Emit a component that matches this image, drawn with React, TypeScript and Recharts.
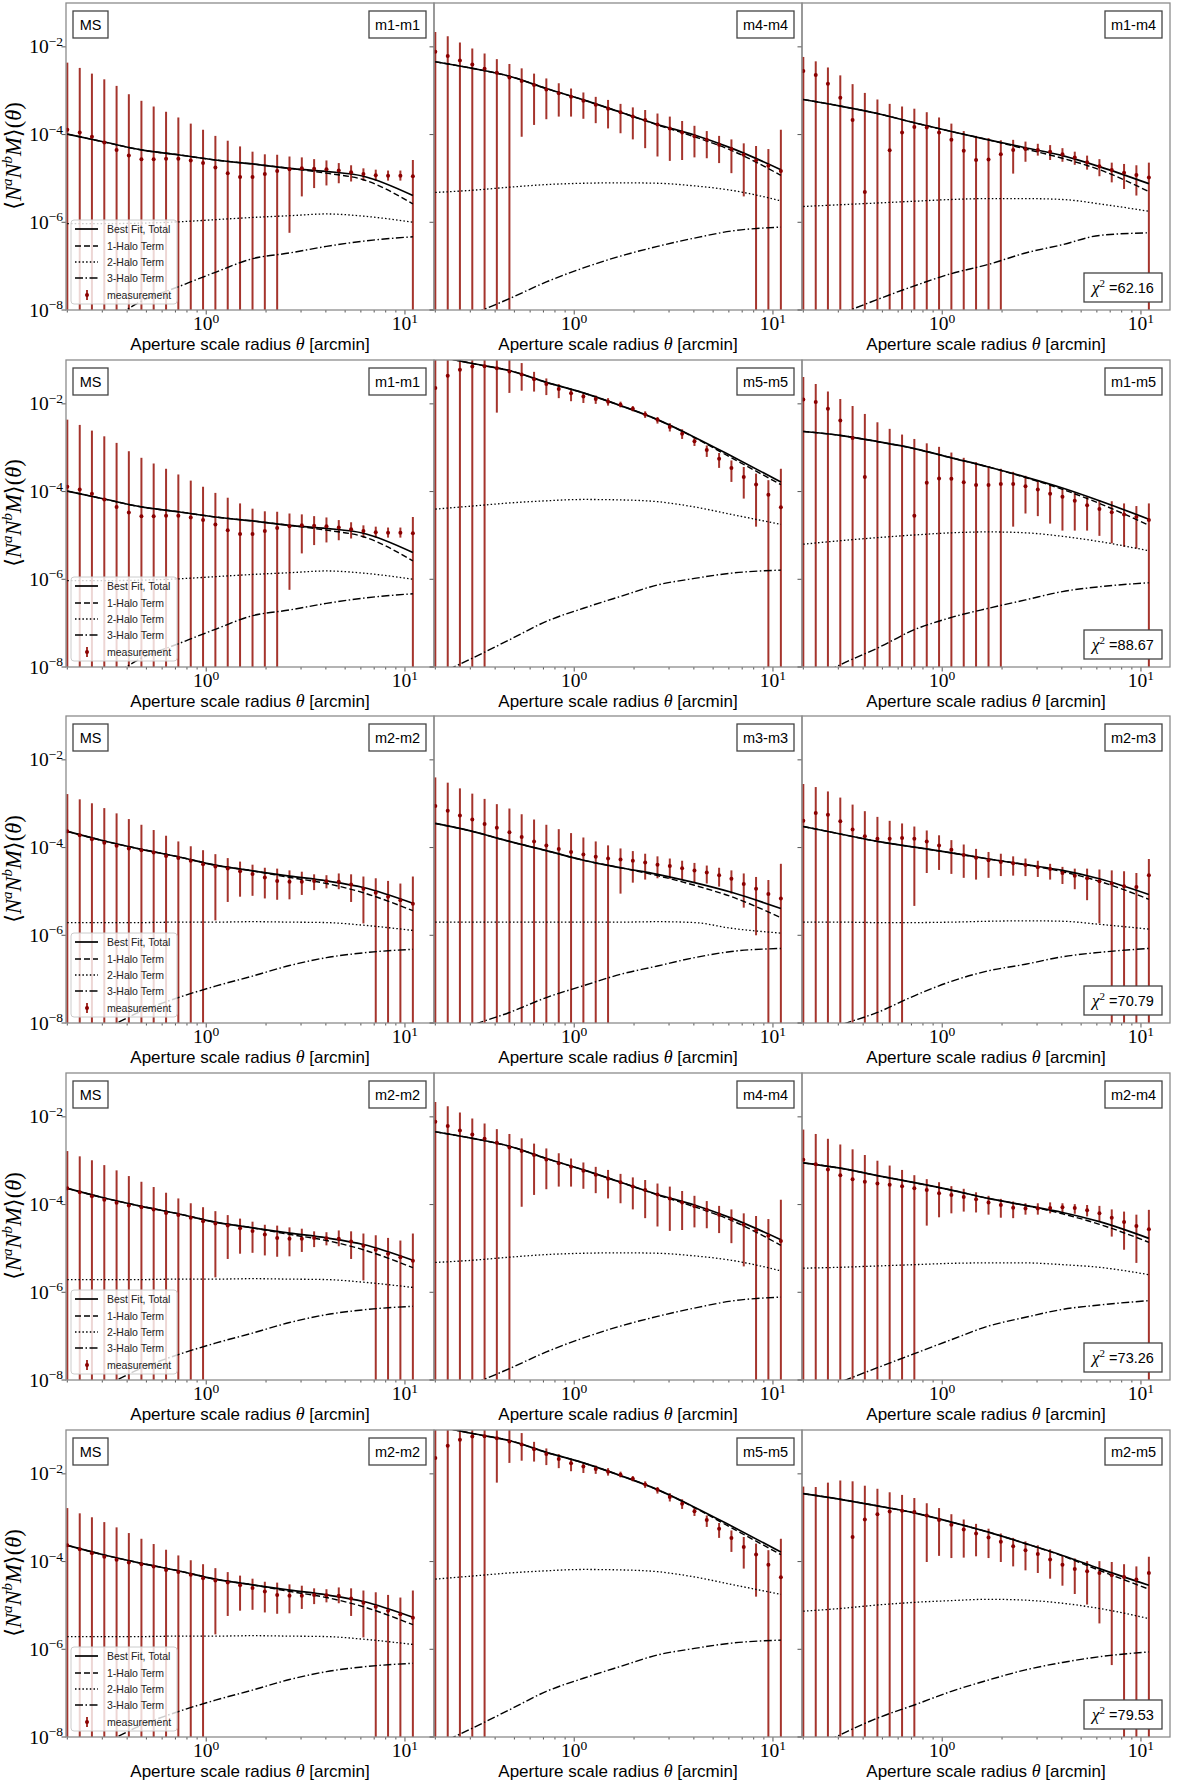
import React from "react";
import { ComposedChart, Scatter, ErrorBar, Line, XAxis, YAxis } from "recharts";

// aperture radii of the measurements [arcmin]
const theta = [
  0.2, 0.231, 0.266, 0.307, 0.354, 0.408, 0.472, 0.544, 0.628, 0.724,
  0.836, 0.964, 1.112, 1.283, 1.48, 1.71, 1.972, 2.275, 2.624, 3.027,
  3.491, 4.027, 4.645, 5.358, 6.18, 7.129, 8.222, 9.484, 10.96,
];
const lineTheta = [0.2, 0.307, 0.472, 0.724, 1.112, 1.71, 2.624, 4.027, 6.18, 10.96];

const xTicks = [0.2, 0.3, 0.4, 0.5, 0.6, 0.7, 0.8, 0.9, 1, 2, 3, 4, 5, 6, 7, 8, 9, 10];
const yTicks = [1e-8, 1e-6, 1e-4, 1e-2];

// all values below are log10 of <NNM>; OFF = error bar runs off the bottom, null = no marker
const OFF = -9;

// m1-m1
const m1m1Meas = [-3.89, -3.95, -4.05, -4.18, -4.35, -4.48, -4.56, -4.56, -4.55, -4.55, -4.59, -4.65, -4.75, -4.88, -4.97, -4.97, -4.9, -4.83, -4.79, -4.77, -4.78, -4.79, -4.82, -4.86, -4.9, -4.93, -4.94, -4.94, -4.95];
const m1m1Hi = [-2.36, -2.48, -2.61, -2.74, -2.89, -3.08, -3.23, -3.36, -3.48, -3.61, -3.75, -3.89, -4.03, -4.14, -4.27, -4.39, -4.45, -4.46, -4.5, -4.52, -4.56, -4.59, -4.65, -4.7, -4.77, -4.8, -4.82, -4.82, -4.58];
const m1m1Lo = [OFF, OFF, OFF, OFF, OFF, OFF, OFF, OFF, OFF, OFF, OFF, OFF, OFF, OFF, OFF, OFF, OFF, OFF, -6.24, -5.41, -5.22, -5.16, -5.11, -5.07, -5.05, -5.05, -5.05, -5.05, OFF];
const m1m1Total = [-3.99, -4.17, -4.35, -4.46, -4.58, -4.67, -4.77, -4.84, -4.95, -5.39];
const m1m1One = [-3.99, -4.17, -4.35, -4.46, -4.58, -4.67, -4.77, -4.88, -5.03, -5.58];
const m1m1Two = [-6.03, -6.03, -6.02, -5.99, -5.94, -5.89, -5.85, -5.81, -5.86, -6.0];
const m1m1Three = [-8.7, -8.3, -7.8, -7.47, -7.14, -6.83, -6.7, -6.55, -6.43, -6.33];

// m4-m4
const m4m4Meas = [-2.11, -2.21, -2.31, -2.4, -2.5, -2.59, -2.7, -2.78, -2.87, -2.97, -3.06, -3.14, -3.23, -3.32, -3.41, -3.49, -3.59, -3.67, -3.77, -3.86, -3.95, -4.04, -4.12, -4.23, -4.33, -4.46, -4.59, -4.71, -4.83];
const m4m4Hi = [-1.66, -1.76, -1.9, -2.04, -2.15, -2.28, -2.39, -2.49, -2.61, -2.72, -2.83, -2.95, -3.04, -3.14, -3.21, -3.3, -3.38, -3.44, -3.52, -3.59, -3.69, -3.8, -3.92, -4.03, -4.11, -4.2, -4.26, -4.33, -3.89];
const m4m4Lo = [OFF, OFF, OFF, OFF, OFF, OFF, OFF, -4.05, -3.78, -3.65, -3.59, -3.59, -3.64, -3.74, -3.86, -3.97, -4.11, -4.31, -4.5, -4.6, -4.58, -4.52, -4.54, -4.65, -4.88, -5.41, OFF, OFF, OFF];
const m4m4Total = [-2.34, -2.49, -2.67, -2.95, -3.21, -3.49, -3.77, -4.01, -4.31, -4.8];
const m4m4One = [-2.34, -2.49, -2.67, -2.95, -3.21, -3.49, -3.78, -4.05, -4.36, -4.93];
const m4m4Two = [-5.32, -5.27, -5.2, -5.14, -5.11, -5.1, -5.11, -5.17, -5.27, -5.51];
const m4m4Three = [-8.45, -8.1, -7.74, -7.36, -7.04, -6.77, -6.55, -6.36, -6.2, -6.11];

// m1-m4
const m1m4Meas = [-2.55, -2.64, -2.84, -3.16, -3.67, -5.31, null, -4.36, -3.95, -3.83, -3.84, -3.95, -4.12, -4.37, -4.58, -4.57, -4.45, -4.35, -4.33, -4.35, -4.39, -4.45, -4.52, -4.63, -4.72, -4.81, -4.87, -4.92, -4.98];
const m1m4Hi = [-2.23, -2.33, -2.47, -2.65, -2.85, -3.05, -3.2, -3.3, -3.36, -3.41, -3.49, -3.61, -3.75, -3.92, -4.03, -4.08, -4.13, -4.12, -4.16, -4.21, -4.24, -4.31, -4.39, -4.48, -4.56, -4.64, -4.67, -4.7, -4.64];
const m1m4Lo = [OFF, OFF, OFF, OFF, OFF, OFF, OFF, OFF, OFF, OFF, OFF, OFF, OFF, OFF, OFF, OFF, OFF, -4.89, -4.62, -4.48, -4.58, -4.62, -4.69, -4.8, -4.95, -5.09, -5.24, -5.39, OFF];
const m1m4Total = [-3.2, -3.35, -3.52, -3.73, -3.93, -4.12, -4.3, -4.48, -4.73, -5.12];
const m1m4One = [-3.2, -3.35, -3.52, -3.73, -3.93, -4.12, -4.33, -4.54, -4.8, -5.3];
const m1m4Two = [-5.64, -5.6, -5.56, -5.52, -5.48, -5.46, -5.46, -5.48, -5.58, -5.75];
const m1m4Three = [-8.5, -8.1, -7.76, -7.45, -7.17, -6.96, -6.7, -6.51, -6.3, -6.24];

// m5-m5
const m5m5Meas = [-1.64, -1.36, -1.22, -1.15, -1.14, -1.19, -1.26, -1.33, -1.44, -1.55, -1.66, -1.76, -1.83, -1.89, -1.95, -2.02, -2.11, -2.24, -2.36, -2.53, -2.68, -2.85, -3.05, -3.25, -3.46, -3.67, -3.84, -4.07, -4.36];
const m5m5Hi = [-0.9, -0.9, -0.9, -0.9, -0.9, -0.9, -0.95, -1.07, -1.27, -1.42, -1.55, -1.66, -1.75, -1.81, -1.87, -1.95, -2.05, -2.17, -2.3, -2.44, -2.58, -2.76, -2.95, -3.12, -3.29, -3.44, -3.59, -3.74, -3.48];
const m5m5Lo = [OFF, OFF, OFF, OFF, OFF, -2.2, -1.75, -1.7, -1.72, -1.8, -1.87, -1.94, -1.98, -2.0, -2.04, -2.08, -2.17, -2.32, -2.45, -2.63, -2.8, -2.96, -3.21, -3.46, -3.78, -4.16, -4.8, OFF, OFF];
const m5m5Total = [-0.9, -1.08, -1.24, -1.51, -1.75, -2.04, -2.36, -2.76, -3.19, -3.78];
const m5m5One = [-0.9, -1.08, -1.24, -1.51, -1.75, -2.04, -2.36, -2.77, -3.23, -3.84];
const m5m5Two = [-4.4, -4.33, -4.26, -4.21, -4.18, -4.19, -4.23, -4.35, -4.52, -4.75];
const m5m5Three = [-8.2, -7.8, -7.38, -6.96, -6.66, -6.39, -6.13, -5.98, -5.86, -5.79];

// m1-m5
const m1m5Meas = [-1.9, -1.96, -2.11, -2.38, -2.78, -3.67, null, null, null, -4.55, -3.8, -3.7, -3.71, -3.79, -3.85, -3.85, -3.83, -3.83, -3.88, -3.95, -4.05, -4.12, -4.21, -4.31, -4.4, -4.47, -4.52, -4.58, -4.65];
const m1m5Hi = [-1.39, -1.55, -1.72, -1.89, -2.05, -2.23, -2.42, -2.57, -2.7, -2.8, -2.9, -2.98, -3.11, -3.23, -3.33, -3.42, -3.48, -3.55, -3.64, -3.74, -3.84, -3.93, -4.02, -4.12, -4.2, -4.22, -4.27, -4.33, -4.27];
const m1m5Lo = [OFF, OFF, OFF, OFF, OFF, OFF, OFF, OFF, OFF, OFF, OFF, OFF, OFF, OFF, OFF, OFF, OFF, -4.8, -4.5, -4.56, -4.73, -4.89, -4.89, -4.89, -5.01, -5.18, -5.26, -5.3, OFF];
const m1m5Total = [-2.63, -2.72, -2.86, -3.02, -3.23, -3.44, -3.67, -3.92, -4.21, -4.63];
const m1m5One = [-2.63, -2.72, -2.86, -3.02, -3.23, -3.44, -3.68, -3.95, -4.27, -4.77];
const m1m5Two = [-5.2, -5.12, -5.05, -4.99, -4.94, -4.92, -4.94, -5.02, -5.14, -5.35];
const m1m5Three = [-8.4, -7.95, -7.57, -7.15, -6.87, -6.66, -6.47, -6.28, -6.17, -6.08];

// m2-m2
const m2m2Meas = [-3.63, -3.72, -3.81, -3.89, -3.96, -4.02, -4.06, -4.11, -4.19, -4.24, -4.3, -4.38, -4.43, -4.48, -4.54, -4.6, -4.68, -4.76, -4.78, -4.78, -4.76, -4.77, -4.78, -4.84, -4.94, -5.03, -5.12, -5.2, -5.28];
const m2m2Hi = [-2.78, -2.9, -2.99, -3.1, -3.22, -3.35, -3.48, -3.6, -3.73, -3.86, -3.97, -4.06, -4.15, -4.24, -4.32, -4.39, -4.46, -4.48, -4.52, -4.55, -4.61, -4.63, -4.59, -4.61, -4.66, -4.7, -4.76, -4.82, -4.66];
const m2m2Lo = [OFF, OFF, OFF, OFF, OFF, OFF, OFF, OFF, OFF, OFF, OFF, OFF, -5.66, -5.24, -5.12, -5.1, -5.16, -5.19, -5.18, -5.08, -4.97, -4.93, -4.95, -5.24, -5.73, OFF, OFF, OFF, OFF];
const m2m2Total = [-3.63, -3.85, -4.04, -4.21, -4.4, -4.53, -4.65, -4.76, -4.91, -5.27];
const m2m2One = [-3.63, -3.85, -4.04, -4.21, -4.4, -4.53, -4.68, -4.82, -5.03, -5.44];
const m2m2Two = [-5.71, -5.71, -5.71, -5.7, -5.7, -5.69, -5.7, -5.71, -5.77, -5.89];
const m2m2Three = [-8.6, -8.15, -7.73, -7.42, -7.16, -6.93, -6.69, -6.51, -6.4, -6.32];

// m3-m3
const m3m3Meas = [-3.05, -3.16, -3.27, -3.36, -3.46, -3.55, -3.65, -3.76, -3.86, -3.95, -4.03, -4.1, -4.16, -4.21, -4.25, -4.27, -4.3, -4.34, -4.39, -4.42, -4.47, -4.52, -4.57, -4.63, -4.71, -4.83, -4.94, -5.06, -5.16];
const m3m3Hi = [-2.4, -2.52, -2.65, -2.77, -2.89, -3.01, -3.11, -3.24, -3.36, -3.48, -3.58, -3.67, -3.77, -3.86, -3.95, -4.02, -4.08, -4.14, -4.2, -4.25, -4.3, -4.35, -4.41, -4.46, -4.52, -4.59, -4.67, -4.74, -4.37];
const m3m3Lo = [OFF, OFF, OFF, OFF, OFF, OFF, OFF, OFF, OFF, OFF, OFF, OFF, OFF, OFF, OFF, -5.05, -4.8, -4.73, -4.7, -4.71, -4.74, -4.8, -4.82, -4.89, -5.05, -5.37, -6.0, OFF, OFF];
const m3m3Total = [-3.45, -3.63, -3.86, -4.07, -4.29, -4.46, -4.61, -4.8, -5.02, -5.39];
const m3m3One = [-3.45, -3.63, -3.86, -4.07, -4.29, -4.46, -4.64, -4.86, -5.12, -5.6];
const m3m3Two = [-5.7, -5.7, -5.7, -5.7, -5.7, -5.7, -5.69, -5.71, -5.84, -5.95];
const m3m3Three = [-8.4, -8.05, -7.76, -7.42, -7.15, -6.89, -6.7, -6.51, -6.37, -6.3];

// m2-m3
const m2m3Meas = [-3.39, -3.21, -3.25, -3.4, -3.59, -3.74, -3.8, -3.8, -3.78, -3.8, -3.86, -3.95, -4.05, -4.17, -4.23, -4.29, -4.33, -4.36, -4.4, -4.45, -4.49, -4.58, -4.64, -4.7, -4.77, -4.82, -4.88, -4.9, -4.63];
const m2m3Hi = [-2.55, -2.62, -2.72, -2.86, -3.02, -3.17, -3.3, -3.39, -3.45, -3.52, -3.61, -3.72, -3.83, -3.93, -4.03, -4.1, -4.14, -4.2, -4.25, -4.3, -4.37, -4.44, -4.48, -4.48, -4.5, -4.52, -4.54, -4.58, -4.26];
const m2m3Lo = [OFF, OFF, OFF, OFF, OFF, OFF, OFF, OFF, OFF, -5.33, -4.58, -4.51, -4.6, -4.69, -4.73, -4.69, -4.65, -4.64, -4.65, -4.67, -4.73, -4.83, -4.95, -5.2, -5.73, OFF, OFF, OFF, OFF];
const m2m3Total = [-3.52, -3.69, -3.86, -3.99, -4.12, -4.26, -4.39, -4.52, -4.71, -5.07];
const m2m3One = [-3.52, -3.69, -3.86, -3.99, -4.12, -4.26, -4.39, -4.55, -4.77, -5.18];
const m2m3Two = [-5.7, -5.7, -5.71, -5.71, -5.7, -5.68, -5.67, -5.68, -5.75, -5.86];
const m2m3Three = [-8.4, -8.05, -7.76, -7.38, -7.05, -6.81, -6.66, -6.49, -6.39, -6.3];

// m2-m4
const m2m4Meas = [-2.98, -3.08, -3.2, -3.33, -3.42, -3.48, -3.52, -3.55, -3.58, -3.63, -3.67, -3.74, -3.78, -3.83, -3.88, -3.95, -4.01, -4.07, -4.09, -4.09, -4.08, -4.06, -4.08, -4.13, -4.2, -4.3, -4.4, -4.49, -4.56];
const m2m4Hi = [-2.29, -2.39, -2.5, -2.63, -2.74, -2.87, -3.0, -3.11, -3.21, -3.33, -3.42, -3.49, -3.58, -3.64, -3.72, -3.8, -3.87, -3.93, -3.97, -3.97, -3.95, -3.97, -3.99, -4.01, -4.03, -4.11, -4.16, -4.23, -4.12];
const m2m4Lo = [OFF, OFF, OFF, OFF, OFF, OFF, OFF, OFF, OFF, OFF, -4.48, -4.29, -4.2, -4.16, -4.18, -4.23, -4.3, -4.31, -4.23, -4.23, -4.2, -4.2, -4.21, -4.27, -4.39, -4.73, -5.03, -5.33, OFF];
const m2m4Total = [-3.05, -3.17, -3.34, -3.5, -3.67, -3.86, -4.02, -4.18, -4.39, -4.77];
const m2m4One = [-3.05, -3.17, -3.34, -3.5, -3.67, -3.86, -4.02, -4.21, -4.45, -4.86];
const m2m4Two = [-5.45, -5.43, -5.4, -5.37, -5.34, -5.33, -5.33, -5.37, -5.43, -5.6];
const m2m4Three = [-8.4, -8.05, -7.72, -7.4, -7.08, -6.77, -6.57, -6.39, -6.29, -6.19];

// m2-m5
const m2m5Meas = [null, null, null, null, -3.44, -3.04, -2.92, -2.86, -2.84, -2.87, -2.95, -3.05, -3.16, -3.27, -3.36, -3.45, -3.55, -3.65, -3.74, -3.83, -3.95, -4.07, -4.17, -4.22, -4.26, -4.31, -4.35, -4.41, -4.26];
const m2m5Hi = [-2.29, -2.3, -2.2, -2.15, -2.17, -2.27, -2.34, -2.42, -2.48, -2.55, -2.67, -2.78, -2.92, -3.04, -3.14, -3.25, -3.36, -3.46, -3.54, -3.63, -3.72, -3.86, -3.93, -3.99, -3.99, -4.01, -4.06, -4.11, -3.89];
const m2m5Lo = [OFF, OFF, OFF, OFF, OFF, OFF, OFF, OFF, OFF, OFF, -4.01, -3.87, -3.92, -3.91, -3.88, -3.92, -4.01, -4.11, -4.2, -4.26, -4.39, -4.55, -4.74, -4.98, -5.41, -6.36, OFF, OFF, OFF];
const m2m5Total = [-2.45, -2.58, -2.73, -2.89, -3.1, -3.33, -3.59, -3.86, -4.16, -4.54];
const m2m5One = [-2.45, -2.58, -2.73, -2.89, -3.1, -3.33, -3.59, -3.87, -4.2, -4.63];
const m2m5Two = [-5.13, -5.07, -4.99, -4.93, -4.89, -4.86, -4.88, -4.95, -5.07, -5.3];
const m2m5Three = [-8.4, -7.95, -7.57, -7.27, -6.96, -6.7, -6.47, -6.3, -6.17, -6.06];

type Curve = {
  meas: (number | null)[];
  hi: number[];
  lo: number[];
  total: number[];
  one: number[];
  two: number[];
  three: number[];
};

const m1m1: Curve = { meas: m1m1Meas, hi: m1m1Hi, lo: m1m1Lo, total: m1m1Total, one: m1m1One, two: m1m1Two, three: m1m1Three };
const m4m4: Curve = { meas: m4m4Meas, hi: m4m4Hi, lo: m4m4Lo, total: m4m4Total, one: m4m4One, two: m4m4Two, three: m4m4Three };
const m1m4: Curve = { meas: m1m4Meas, hi: m1m4Hi, lo: m1m4Lo, total: m1m4Total, one: m1m4One, two: m1m4Two, three: m1m4Three };
const m5m5: Curve = { meas: m5m5Meas, hi: m5m5Hi, lo: m5m5Lo, total: m5m5Total, one: m5m5One, two: m5m5Two, three: m5m5Three };
const m1m5: Curve = { meas: m1m5Meas, hi: m1m5Hi, lo: m1m5Lo, total: m1m5Total, one: m1m5One, two: m1m5Two, three: m1m5Three };
const m2m2: Curve = { meas: m2m2Meas, hi: m2m2Hi, lo: m2m2Lo, total: m2m2Total, one: m2m2One, two: m2m2Two, three: m2m2Three };
const m3m3: Curve = { meas: m3m3Meas, hi: m3m3Hi, lo: m3m3Lo, total: m3m3Total, one: m3m3One, two: m3m3Two, three: m3m3Three };
const m2m3: Curve = { meas: m2m3Meas, hi: m2m3Hi, lo: m2m3Lo, total: m2m3Total, one: m2m3One, two: m2m3Two, three: m2m3Three };
const m2m4: Curve = { meas: m2m4Meas, hi: m2m4Hi, lo: m2m4Lo, total: m2m4Total, one: m2m4One, two: m2m4Two, three: m2m4Three };
const m2m5: Curve = { meas: m2m5Meas, hi: m2m5Hi, lo: m2m5Lo, total: m2m5Total, one: m2m5One, two: m2m5Two, three: m2m5Three };

type PanelSpec = { curve: Curve; tag: string; chi?: string };

const grid: PanelSpec[][] = [
  [{ curve: m1m1, tag: "m1-m1" }, { curve: m4m4, tag: "m4-m4" }, { curve: m1m4, tag: "m1-m4", chi: "62.16" }],
  [{ curve: m1m1, tag: "m1-m1" }, { curve: m5m5, tag: "m5-m5" }, { curve: m1m5, tag: "m1-m5", chi: "88.67" }],
  [{ curve: m2m2, tag: "m2-m2" }, { curve: m3m3, tag: "m3-m3" }, { curve: m2m3, tag: "m2-m3", chi: "70.79" }],
  [{ curve: m2m2, tag: "m2-m2" }, { curve: m4m4, tag: "m4-m4" }, { curve: m2m4, tag: "m2-m4", chi: "73.26" }],
  [{ curve: m2m2, tag: "m2-m2" }, { curve: m5m5, tag: "m5-m5" }, { curve: m2m5, tag: "m2-m5", chi: "79.53" }],
];

const Y_MIN = 1e-8;
const Y_MAX = 1e-1;

const SANS = "'Liberation Sans', Arial, sans-serif";
const SERIF = "'Liberation Serif', 'DejaVu Serif', serif";
const ERR = "#a5342c";
const DOT = "#8b0000";

// layout
const AXIS_W = 66;
const PLOT_W = 368;
const PLOT_H = 307;
const CHART_W = AXIS_W + PLOT_W + 2;
const CHART_H = 360;
const rowTops = [3, 360, 716, 1073, 1430];
const colLefts = [0, 368, 736];

function pointRows(c: Curve) {
  return theta.map((x, i) => {
    const m = c.meas[i];
    const y = m === null ? Y_MIN : 10 ** m;
    const top = Math.min(10 ** c.hi[i], Y_MAX);
    const bottom = Math.max(10 ** c.lo[i], Y_MIN);
    return { x, y, missing: m === null, err: [Math.max(y - bottom, 0), Math.max(top - y, 0)] };
  });
}

function modelRows(c: Curve) {
  return lineTheta.map((x, i) => ({
    x,
    total: 10 ** c.total[i],
    one: 10 ** c.one[i],
    two: 10 ** c.two[i],
    three: 10 ** c.three[i],
  }));
}

const MeasDot = (props: any) => {
  if (props.payload?.missing) return <g />;
  return <circle cx={props.cx} cy={props.cy} r={2} fill={DOT} />;
};

const XTick = (props: any) => {
  const { x, y, payload } = props;
  const e = Math.log10(payload.value);
  const major = Math.abs(e - Math.round(e)) < 1e-6;
  return (
    <g>
      <line x1={x} x2={x} y1={y} y2={y + (major ? 4.5 : 2.5)} stroke="#555" strokeWidth={1} />
      {major && (
        <text x={x} y={y + 20} textAnchor="middle" fontFamily={SERIF} fontSize={19.5} fill="#000">
          10
          <tspan dy={-7.5} fontSize={13.5}>
            {Math.round(e)}
          </tspan>
        </text>
      )}
    </g>
  );
};

const makeYTick = (showLabel: boolean) => (props: any) => {
  const { x, y, payload } = props;
  const e = Math.round(Math.log10(payload.value));
  return (
    <g>
      <line x1={x - 4.5} x2={x} y1={y} y2={y} stroke="#555" strokeWidth={1} />
      {showLabel && (
        <text x={x - 3} y={y + 6.5} textAnchor="end" fontFamily={SERIF} fontSize={19.5} fill="#000">
          10
          <tspan dy={-7.5} fontSize={13.5}>
            {"\u2212" + Math.abs(e)}
          </tspan>
        </text>
      )}
    </g>
  );
};

function Legend() {
  const x0 = 71;
  const rows = [226, 243, 259, 275, 292];
  const labels = ["Best Fit, Total", "1-Halo Term", "2-Halo Term", "3-Halo Term", "measurement"];
  const dashes = [undefined, "6 3", "1.5 2.2", "8 2.5 1.5 2.5"];
  return (
    <g>
      <rect x={x0} y={217} width={106} height={84} rx={3} fill="rgba(255,255,255,0.8)" stroke="#cccccc" strokeWidth={1} />
      {rows.map((ry, i) => (
        <g key={i}>
          {i < 4 ? (
            <line x1={75} x2={98} y1={ry} y2={ry} stroke="#000" strokeWidth={i === 0 ? 1.7 : 1.4} strokeDasharray={dashes[i]} />
          ) : (
            <g>
              <line x1={87} x2={87} y1={ry - 5} y2={ry + 5} stroke={ERR} strokeWidth={2} />
              <circle cx={87} cy={ry} r={2} fill={DOT} />
            </g>
          )}
          <text x={107} y={ry + 3.6} fontFamily={SANS} fontSize={10.5} fill="#222">
            {labels[i]}
          </text>
        </g>
      ))}
    </g>
  );
}

function Panel({ spec, col, left, top }: { spec: PanelSpec; col: number; left: number; top: number }) {
  const pts = pointRows(spec.curve);
  const model = modelRows(spec.curve);
  const plotR = AXIS_W + PLOT_W;
  return (
    <div style={{ position: "absolute", left, top, width: CHART_W, height: CHART_H }}>
      <ComposedChart width={CHART_W} height={CHART_H} margin={{ top: 0, right: 2, bottom: 0, left: 0 }}>
        <XAxis
          dataKey="x"
          type="number"
          scale="log"
          domain={[0.197, 14]}
          allowDataOverflow
          ticks={xTicks}
          interval={0}
          tick={XTick}
          tickSize={0}
          tickMargin={0}
          axisLine={false}
          height={CHART_H - PLOT_H}
        />
        <YAxis
          type="number"
          scale="log"
          domain={[Y_MIN, Y_MAX]}
          allowDataOverflow
          ticks={yTicks}
          interval={0}
          tick={makeYTick(col === 0)}
          tickSize={0}
          tickMargin={0}
          axisLine={false}
          width={AXIS_W}
        />
        <Scatter data={pts} dataKey="y" shape={MeasDot} fill={DOT} isAnimationActive={false}>
          <ErrorBar dataKey="err" direction="y" width={0} stroke={ERR} strokeWidth={2} />
        </Scatter>
        <Line data={model} dataKey="two" type="monotone" stroke="#000" strokeWidth={1.3} strokeDasharray="1.5 2.2" dot={false} isAnimationActive={false} />
        <Line data={model} dataKey="three" type="monotone" stroke="#000" strokeWidth={1.4} strokeDasharray="8 2.5 1.5 2.5" dot={false} isAnimationActive={false} />
        <Line data={model} dataKey="one" type="monotone" stroke="#000" strokeWidth={1.4} strokeDasharray="6 3" dot={false} isAnimationActive={false} />
        <Line data={model} dataKey="total" type="monotone" stroke="#000" strokeWidth={1.7} dot={false} isAnimationActive={false} />
      </ComposedChart>
      <svg
        width={CHART_W}
        height={CHART_H}
        style={{ position: "absolute", left: 0, top: 0, pointerEvents: "none", overflow: "visible" }}
      >
        <rect x={AXIS_W} y={0} width={PLOT_W} height={PLOT_H} fill="none" stroke="#8c8c8c" strokeWidth={1.3} />
        {col === 0 && (
          <text transform="rotate(-90)" x={-153} y={21} textAnchor="middle" fontFamily={SERIF} fontSize={22.5} fill="#000">
            {"\u27E8"}
            <tspan fontStyle="italic">N</tspan>
            <tspan dy={-9} fontSize={15} fontStyle="italic">a</tspan>
            <tspan dy={9} fontStyle="italic">N</tspan>
            <tspan dy={-9} fontSize={15} fontStyle="italic">b</tspan>
            <tspan dy={9} fontStyle="italic">M</tspan>
            {"\u27E9("}
            <tspan fontStyle="italic">θ</tspan>
            {")"}
          </text>
        )}
        <text x={AXIS_W + PLOT_W / 2} y={PLOT_H + 40} textAnchor="middle" fontFamily={SANS} fontSize={17} fill="#000">
          {"Aperture scale radius "}
          <tspan fontFamily={SERIF} fontStyle="italic" fontSize={18}>θ</tspan>
          {" [arcmin]"}
        </text>
        <rect x={plotR - 65} y={8} width={57} height={27} fill="#fff" stroke="#444" strokeWidth={1.3} />
        <text x={plotR - 36.5} y={27} textAnchor="middle" fontFamily={SANS} fontSize={14.5} fill="#000">
          {spec.tag}
        </text>
        {col === 0 && (
          <g>
            <rect x={AXIS_W + 7} y={8} width={35} height={27} fill="#fff" stroke="#444" strokeWidth={1.3} />
            <text x={AXIS_W + 24.5} y={27} textAnchor="middle" fontFamily={SANS} fontSize={14.5} fill="#000">
              MS
            </text>
            <Legend />
          </g>
        )}
        {spec.chi && (
          <g>
            <rect x={plotR - 86} y={PLOT_H - 37} width={78} height={29} fill="#fff" stroke="#444" strokeWidth={1.3} />
            <text x={plotR - 47} y={PLOT_H - 17} textAnchor="middle" fontFamily={SANS} fontSize={14.5} fill="#000">
              <tspan fontFamily={SERIF} fontStyle="italic" fontSize={17}>χ</tspan>
              <tspan dy={-6} fontFamily={SERIF} fontSize={11}>2</tspan>
              <tspan dy={6}>{" =" + spec.chi}</tspan>
            </text>
          </g>
        )}
      </svg>
    </div>
  );
}

export default function App() {
  return (
    <div style={{ position: "absolute", left: 0, top: 0, width: 1200, height: 1781, background: "#fff" }}>
      {grid.map((row, r) =>
        row.map((spec, c) => (
          <Panel key={`${r}-${c}`} spec={spec} col={c} left={colLefts[c]} top={rowTops[r]} />
        ))
      )}
    </div>
  );
}
